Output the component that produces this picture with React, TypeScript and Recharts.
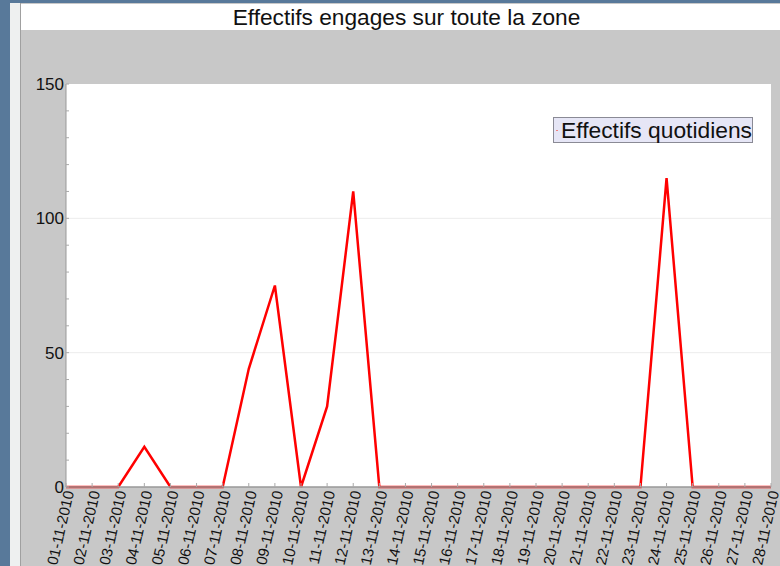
import React from 'react';
import { LineChart, Line, XAxis, YAxis, CartesianGrid, Legend, ReferenceLine } from 'recharts';

const dates = [
  '01-11-2010', '02-11-2010', '03-11-2010', '04-11-2010', '05-11-2010', '06-11-2010', '07-11-2010',
  '08-11-2010', '09-11-2010', '10-11-2010', '11-11-2010', '12-11-2010', '13-11-2010', '14-11-2010',
  '15-11-2010', '16-11-2010', '17-11-2010', '18-11-2010', '19-11-2010', '20-11-2010', '21-11-2010',
  '22-11-2010', '23-11-2010', '24-11-2010', '25-11-2010', '26-11-2010', '27-11-2010', '28-11-2010',
];
const effectifs = [0, 0, 0, 15, 0, 0, 0, 44, 75, 0, 30, 110, 0, 0, 0, 0, 0, 0, 0, 0, 0, 0, 0, 115, 0, 0, 0, 0];
const yTicks = [0, 10, 20, 30, 40, 50, 60, 70, 80, 90, 100, 110, 120, 130, 140, 150];
const gridValues = [50, 100];
const title = 'Effectifs engages sur toute la zone';
const seriesName = 'Effectifs quotidiens';

const data = dates.map((d, i) => ({ date: d, v: effectifs[i] }));
const FONT = '"Liberation Sans", Arial, sans-serif';

const XTick = (props: any) => {
  const { x, y, payload } = props;
  return (
    <g>
      <line x1={x} x2={x} y1={y - 4} y2={y} stroke="#aaa" strokeWidth={1} />
      <text
        transform={`translate(${x + 3},${y + 4}) rotate(-77)`}
        textAnchor="end"
        dy="0.35em"
        fontSize={15}
        fontFamily={FONT}
        fill="#111"
      >
        {payload.value}
      </text>
    </g>
  );
};

const YTick = (props: any) => {
  const { x, y, payload } = props;
  const major = payload.value % 50 === 0;
  return (
    <g>
      <line x1={x} x2={x + 3} y1={y} y2={y} stroke="#aaa" strokeWidth={1} />
      {major && (
        <text x={x - 2} y={y} dy="0.35em" textAnchor="end" fontSize={17} fontFamily={FONT} fill="#111">
          {payload.value}
        </text>
      )}
    </g>
  );
};

const LegendBox = () => (
  <div
    style={{
      boxSizing: 'border-box',
      width: 200,
      height: 26,
      border: '1px solid #8a8a95',
      background: '#e6e6f6',
      fontFamily: FONT,
      fontSize: 22.8,
      lineHeight: '24px',
      color: '#111',
      whiteSpace: 'nowrap',
      display: 'flex',
      alignItems: 'center',
      paddingLeft: 2,
    }}
  >
    <span style={{ display: 'inline-block', width: 4, height: 1, background: '#f08080', marginRight: 3 }} />
    {seriesName}
  </div>
);

export default function App() {
  return (
    <div style={{ position: 'absolute', left: 0, top: 0, width: 780, height: 566, background: '#58799a', overflow: 'hidden' }}>
      <div style={{ position: 'absolute', left: 10, top: 3, width: 770, height: 563, background: '#eef0f0' }} />
      <div style={{ position: 'absolute', left: 20, top: 3, width: 760, height: 563, background: '#c8c8c8', borderLeft: '1px solid #a0a0a0' }} />
      <div
        style={{
          position: 'absolute', left: 21, top: 4, width: 759, height: 26, background: '#ffffff',
          fontFamily: FONT, fontSize: 22.7, lineHeight: '26px', textAlign: 'center', color: '#111',
        }}
      >
        <span style={{ position: 'relative', left: 6 }}>{title}</span>
      </div>
      <div style={{ position: 'absolute', left: 0, top: 0 }}>
        <LineChart width={780} height={566} data={data} margin={{ top: 84, right: 9, left: 0, bottom: 0 }}>
          <CartesianGrid horizontal={false} vertical={false} fill="#ffffff" stroke="none" />
          {gridValues.map((g) => (
            <ReferenceLine key={g} y={g} stroke="#ececec" strokeWidth={1} />
          ))}
          <XAxis
            dataKey="date"
            height={79}
            interval={0}
            tickLine={false}
            tickSize={0}
            tickMargin={0}
            axisLine={{ stroke: '#999', strokeWidth: 1.5 }}
            tick={<XTick />}
          />
          <YAxis
            width={66}
            domain={[0, 150]}
            ticks={yTicks}
            interval={0}
            tickLine={false}
            tickSize={0}
            tickMargin={0}
            axisLine={{ stroke: '#999', strokeWidth: 1 }}
            tick={<YTick />}
          />
          <Legend
            layout="vertical"
            align="center"
            verticalAlign="middle"
            wrapperStyle={{ left: 553, top: 117, width: 200, height: 26 }}
            content={() => <LegendBox />}
          />
          <Line
            type="linear"
            dataKey="v"
            name={seriesName}
            stroke="#ff0000"
            strokeWidth={2.5}
            dot={false}
            isAnimationActive={false}
          />
        </LineChart>
      </div>
    </div>
  );
}
